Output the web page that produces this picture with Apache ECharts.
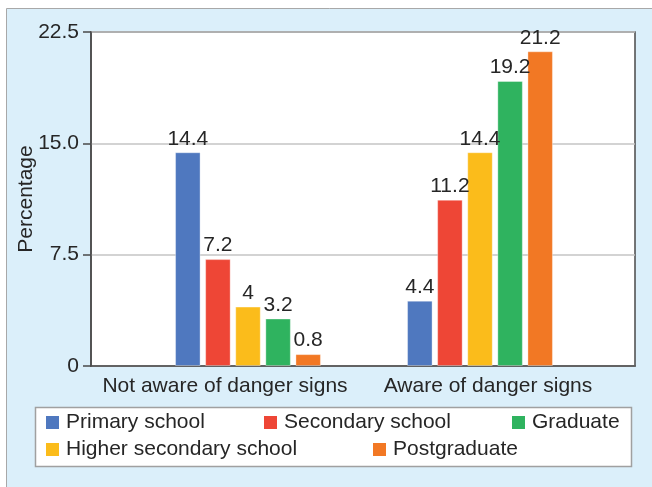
<!DOCTYPE html>
<html>
<head>
<meta charset="utf-8">
<title>Awareness of danger signs by education</title>
<script src="https://cdn.jsdelivr.net/npm/echarts@6/dist/echarts.min.js"></script>
<style>
  html, body { margin: 0; padding: 0; background: #ffffff; }
  #chart { width: 652px; height: 487px; }
</style>
</head>
<body>
<div id="chart"></div>
<script>
// Categories and values (percentages)
const categories = ['Not aware of danger signs', 'Aware of danger signs'];
const seriesNames = ['Primary school', 'Secondary school', 'Higher secondary school', 'Graduate', 'Postgraduate'];
const primarySchool = [14.4, 4.4];
const secondarySchool = [7.2, 11.2];
const higherSecondarySchool = [4, 14.4];
const graduate = [3.2, 19.2];
const postgraduate = [0.8, 21.2];
const yMax = 22.5;
const yStep = 7.5;

const seriesValues = [primarySchool, secondarySchool, higherSecondarySchool, graduate, postgraduate];
const seriesColors = ['#4f78bf', '#ee4636', '#fbbc1b', '#2fb35f', '#f27824'];

// legend item placement (two rows inside the white box)
const legendSlots = [[46, 412], [264, 412], [46, 439], [512, 412], [373, 439]];

const FONT = 'Liberation Sans, Arial, Helvetica, sans-serif';
const TEXT = '#262626';
const AXIS = '#4a4a4a';
const FS = 21;

const plotTop = 32;
const plotBottom = 121;

const chart = echarts.init(document.getElementById('chart'), null, { renderer: 'canvas' });

const option = {
  animation: false,
  backgroundColor: '#ffffff',
  textStyle: { fontFamily: FONT },
  graphic: [
    {
      type: 'rect',
      z: -20,
      shape: { x: 6.5, y: 8.5, width: 660, height: 490 },
      style: { fill: '#dbeffa', stroke: '#a8a8a8', lineWidth: 1 }
    },
    {
      type: 'rect',
      z: -5,
      shape: { x: 35.5, y: 407.5, width: 596, height: 59 },
      style: { fill: '#ffffff', stroke: '#a0a0a0', lineWidth: 1.5 }
    }
  ],
  grid: [
    // frame, grid lines and y axis
    { left: 91, right: 17, top: plotTop, bottom: plotBottom, show: true,
      backgroundColor: '#ffffff', borderColor: AXIS, borderWidth: 1.5 },
    // bars
    { left: 132, right: 56, top: plotTop, bottom: plotBottom },
    // category labels
    { left: 93.5, right: 32.5, top: plotTop, bottom: plotBottom }
  ],
  xAxis: [
    { type: 'category', gridIndex: 0, data: categories,
      axisLine: { lineStyle: { color: AXIS, width: 1.5 } },
      axisTick: { show: false }, axisLabel: { show: false } },
    { type: 'category', gridIndex: 1, data: categories, show: false },
    { type: 'category', gridIndex: 2, data: categories,
      axisLine: { show: false }, axisTick: { show: false },
      axisLabel: { interval: 0, fontSize: FS, color: TEXT, margin: 10, fontFamily: FONT } }
  ],
  yAxis: [
    { type: 'value', gridIndex: 0, min: 0, max: yMax, interval: yStep,
      name: 'Percentage', nameLocation: 'middle', nameGap: 54, nameRotate: 90,
      nameMoveOverlap: false,
      nameTextStyle: { fontSize: FS, color: TEXT, fontFamily: FONT },
      axisLine: { show: true, lineStyle: { color: AXIS, width: 1.5 } },
      axisTick: { show: true, length: 8, lineStyle: { color: AXIS, width: 1.5 } },
      axisLabel: { fontSize: FS, color: TEXT, margin: 12, fontFamily: FONT,
        formatter: v => (v === 0 ? '0' : v.toFixed(1)) },
      splitLine: { show: true, lineStyle: { color: '#c4c4c4', width: 1.5 } } },
    { type: 'value', gridIndex: 1, min: 0, max: yMax, interval: yStep, show: false,
      splitLine: { show: false } },
    { type: 'value', gridIndex: 2, min: 0, max: yMax, interval: yStep, show: false,
      splitLine: { show: false } }
  ],
  legend: seriesNames.map((name, i) => ({
    data: [name],
    left: legendSlots[i][0],
    top: legendSlots[i][1],
    padding: 0,
    itemWidth: 13,
    itemHeight: 13,
    icon: 'rect',
    selectedMode: false,
    itemStyle: { borderWidth: 0 },
    textStyle: { fontSize: FS, color: TEXT, fontFamily: FONT, lineHeight: 20, padding: [0, 0, 0, 2] }
  })),
  series: seriesNames.map((name, i) => ({
    name: name,
    type: 'bar',
    xAxisIndex: 1,
    yAxisIndex: 1,
    data: seriesValues[i],
    barWidth: 25.5,
    barGap: '18%',
    itemStyle: { color: seriesColors[i], borderColor: 'rgba(255,255,255,0.35)', borderWidth: 1 },
    label: { show: true, position: 'top', distance: 3, fontSize: FS, color: TEXT, fontFamily: FONT }
  }))
};

chart.setOption(option);
</script>
</body>
</html>
